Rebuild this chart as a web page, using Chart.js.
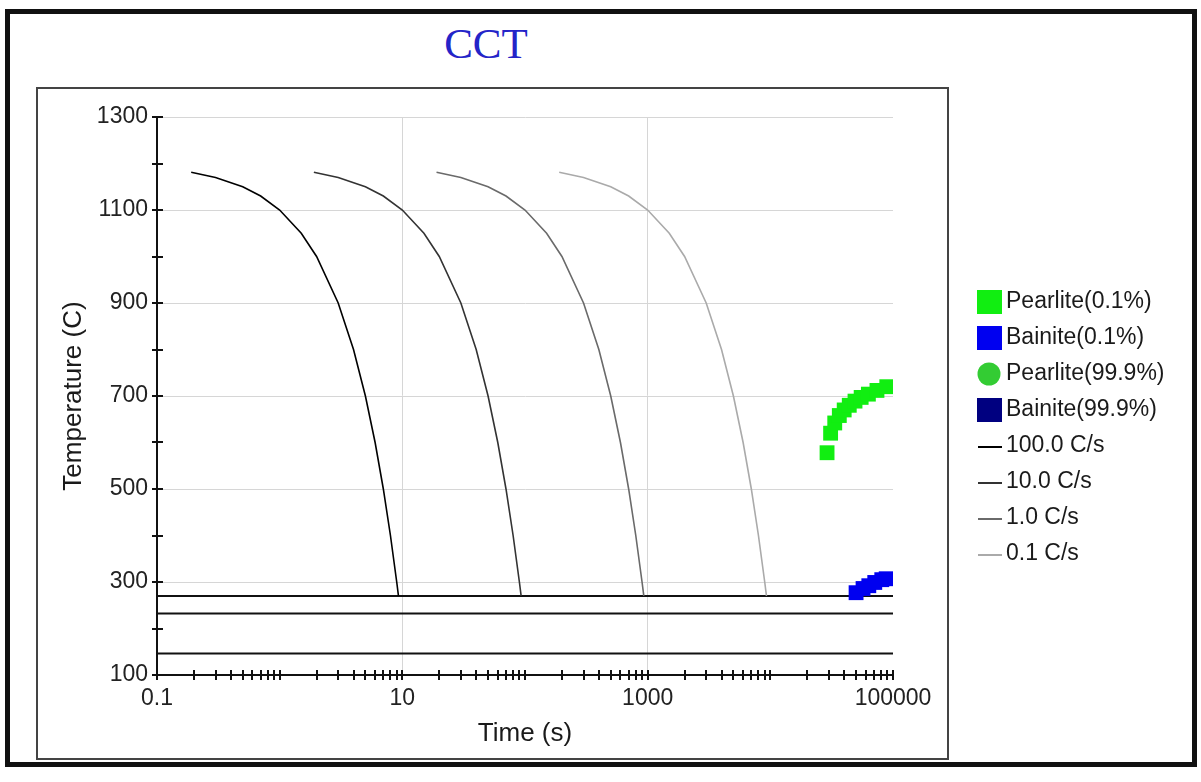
<!DOCTYPE html>
<html lang="en">
<head>
<meta charset="UTF-8">
<title>CCT</title>
<script src="https://cdn.jsdelivr.net/npm/chart.js"></script>
<style>
    body { margin: 0; background: #fff; }
    #page { position: relative; width: 1201px; height: 782px; overflow: hidden; background: #fff; }
    .outer { position: absolute; left: 5px; top: 9px; width: 1182px; height: 748px; border: 5px solid #111; }
    .inner { position: absolute; left: 36px; top: 87px; width: 909px; height: 669px; border: 2px solid #444; }
    .titulo { position: absolute; left: 386px; top: 22px; width: 200px; text-align: center;
              font: 43px/1 "Liberation Serif", serif; color: #2424c8; }
    canvas { position: absolute; left: 0; top: 0; }
</style>
</head>
<body>
<div id="page">
    <div class="outer"></div>
    <div class="inner"></div>
    <div class="titulo">CCT</div>
    <canvas id="grafico" width="1201" height="782"></canvas>
</div>

<script>
    // curvas de resfriamento (mesmas temperaturas, tempos por taxa)
    const coolTemp = [1181, 1170, 1150, 1130, 1100, 1050, 1000, 900, 800, 700, 600, 500, 400, 300, 270];
    const time100 = [0.19, 0.3, 0.5, 0.7, 1, 1.5, 2, 3, 4, 5, 6, 7, 8, 9, 9.3];
    const time10 = [1.9, 3, 5, 7, 10, 15, 20, 30, 40, 50, 60, 70, 80, 90, 93];
    const time1 = [19, 30, 50, 70, 100, 150, 200, 300, 400, 500, 600, 700, 800, 900, 930];
    const time01 = [190, 300, 500, 700, 1000, 1500, 2000, 3000, 4000, 5000, 6000, 7000, 8000, 9000, 9300];

    // inicio das transformacoes
    const pearliteTime = [29000, 31000, 33500, 36500, 40000, 44000, 49000, 55000, 63000, 74000, 89000];
    const pearliteTemp = [578, 620, 642, 658, 670, 680, 689, 697, 704, 712, 720];
    const bainiteTime = [50000, 57000, 63500, 71000, 81000, 88000];
    const bainiteTemp = [277, 286, 292, 299, 305, 307];

    // linhas horizontais
    const hLineTemps = [270, 232, 146];
    const hLineTime = [0.1, 100000];

    // eixos
    const xMajor = [0.1, 10, 1000, 100000];
    const xTickLabels = ['0.1', '10', '1000', '100000'];
    const yMarks = [100, 200, 300, 400, 500, 600, 700, 800, 900, 1000, 1100, 1200, 1300];

    function pontos(xs, ys) {
        return xs.map((v, i) => ({ x: v, y: ys[i] }));
    }

    var xMarks = [];
    [0.1, 1, 10, 100, 1000, 10000].forEach(d => {
        for (var m = 1; m <= 9; m++) xMarks.push(d * m);
    });
    xMarks.push(100000);

    function curva(label, xs, cor) {
        return {
            label: label, data: pontos(xs, coolTemp), showLine: true, borderColor: cor,
            borderWidth: 1.6, pointRadius: 0, legendShape: 'line', order: 1
        };
    }

    var datasets = [
        { label: 'Pearlite(0.1%)', data: pontos(pearliteTime, pearliteTemp), backgroundColor: '#11ee11',
          pointStyle: 'rect', pointRadius: 10.5, borderWidth: 0, legendShape: 'rect', order: 0 },
        { label: 'Bainite(0.1%)', data: pontos(bainiteTime, bainiteTemp), backgroundColor: '#0000f0',
          pointStyle: 'rect', pointRadius: 10.5, borderWidth: 0, legendShape: 'rect', order: 0 },
        { label: 'Pearlite(99.9%)', data: [], backgroundColor: '#33cc33', pointStyle: 'circle',
          legendShape: 'circle', order: 0 },
        { label: 'Bainite(99.9%)', data: [], backgroundColor: '#000080', pointStyle: 'rect',
          legendShape: 'rect', order: 0 },
        curva('100.0 C/s', time100, '#000000'),
        curva('10.0 C/s', time10, '#333333'),
        curva('1.0 C/s', time1, '#6a6a6a'),
        curva('0.1 C/s', time01, '#aaaaaa')
    ];

    hLineTemps.forEach(t => {
        datasets.push({
            label: '', data: pontos(hLineTime, [t, t]), showLine: true, borderColor: '#111',
            borderWidth: 2, pointRadius: 0, legendShape: 'none', order: 2
        });
    });

    const marcasEixo = {
        id: 'marcasEixo',
        afterDraw(chart) {
            const { ctx, scales: { x, y } } = chart;
            ctx.save();
            ctx.strokeStyle = '#111';
            ctx.lineWidth = 2;
            ctx.beginPath();
            yMarks.forEach(v => {
                const py = Math.round(y.getPixelForValue(v));
                ctx.moveTo(x.left - 5, py);
                ctx.lineTo(x.left + 6, py);
            });
            xMarks.forEach(v => {
                const px = Math.round(x.getPixelForValue(v));
                ctx.moveTo(px, y.bottom - 5);
                ctx.lineTo(px, y.bottom + 5);
            });
            ctx.stroke();
            ctx.restore();
        }
    };

    const legenda = {
        id: 'legenda',
        afterDraw(chart) {
            const ctx = chart.ctx;
            var y = 302;
            ctx.save();
            ctx.font = '23px "Liberation Sans", Arial, sans-serif';
            ctx.textBaseline = 'middle';
            ctx.textAlign = 'left';
            chart.data.datasets.forEach(ds => {
                if (ds.legendShape === 'none') return;
                if (ds.legendShape === 'rect') {
                    ctx.fillStyle = ds.backgroundColor;
                    ctx.fillRect(977, y - 12, 25, 24);
                } else if (ds.legendShape === 'circle') {
                    ctx.fillStyle = ds.backgroundColor;
                    ctx.beginPath();
                    ctx.arc(989, y, 11.5, 0, Math.PI * 2);
                    ctx.fill();
                } else {
                    ctx.strokeStyle = ds.borderColor;
                    ctx.lineWidth = 2;
                    ctx.beginPath();
                    ctx.moveTo(978, y + 1);
                    ctx.lineTo(1002, y + 1);
                    ctx.stroke();
                }
                ctx.fillStyle = '#1a1a1a';
                ctx.fillText(ds.label, 1006, y);
                y += 36;
            });
            ctx.restore();
        }
    };

    const fonte = '"Liberation Sans", Arial, sans-serif';

    new Chart(document.getElementById('grafico'), {
        type: 'scatter',
        data: { datasets: datasets },
        options: {
            responsive: false,
            animation: false,
            devicePixelRatio: 1,
            layout: { padding: { left: 58, top: 117, right: 308, bottom: 33 } },
            elements: { line: { tension: 0 } },
            plugins: {
                legend: { display: false },
                title: { display: false },
                tooltip: { enabled: false }
            },
            scales: {
                x: {
                    type: 'logarithmic',
                    min: 0.1,
                    max: 100000,
                    afterBuildTicks: (axis) => { axis.ticks = xMajor.map(v => ({ value: v })); },
                    afterFit: (axis) => { axis.height = 74; },
                    ticks: {
                        autoSkip: false,
                        maxRotation: 0,
                        padding: 10,
                        color: '#222',
                        font: { family: fonte, size: 23 },
                        callback: (v, i) => xTickLabels[i]
                    },
                    grid: {
                        drawTicks: false,
                        color: (c) => (c.tick && (c.tick.value === 10 || c.tick.value === 1000)) ? '#d6d6d6' : 'rgba(0,0,0,0)'
                    },
                    border: { color: '#111', width: 2 },
                    title: {
                        display: true, text: 'Time (s)', color: '#1a1a1a',
                        font: { family: fonte, size: 26 }, padding: 0
                    }
                },
                y: {
                    min: 100,
                    max: 1300,
                    afterFit: (axis) => { axis.width = 99; },
                    ticks: {
                        stepSize: 200,
                        padding: 9,
                        color: '#222',
                        font: { family: fonte, size: 23 },
                        callback: (v) => String(v)
                    },
                    grid: { drawTicks: false, color: '#d6d6d6' },
                    border: { color: '#111', width: 2 },
                    title: {
                        display: true, text: 'Temperature (C)', color: '#1a1a1a',
                        font: { family: fonte, size: 26 }, padding: 0
                    }
                }
            }
        },
        plugins: [marcasEixo, legenda]
    });
</script>
</body>
</html>
